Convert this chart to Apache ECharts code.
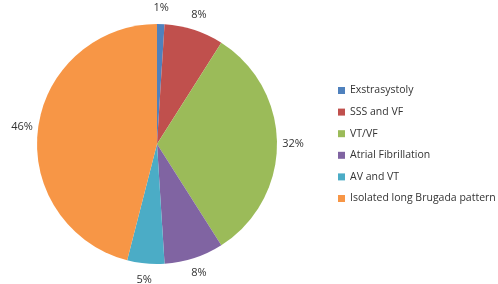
<!DOCTYPE html>
<html><head><meta charset="utf-8">
<script src="https://cdn.jsdelivr.net/npm/echarts@6/dist/echarts.min.js"></script>
<style>html,body{margin:0;padding:0;background:#fff}#c{width:498px;height:284px}</style>
</head><body><div id="c"></div>
<script>
const categories = ["Exstrasystoly","SSS and VF","VT/VF","Atrial Fibrillation","AV and VT","Isolated long Brugada pattern"];
const values = [1, 8, 32, 8, 5, 46];
const colors = ["#4F81BD","#C0504D","#9BBB59","#8064A2","#4BACC6","#F79646"];

const pieData = categories.map((n, i) => ({name: n, value: values[i]}));
const chart = echarts.init(document.getElementById('c'));
chart.setOption({
  animation: false,
  color: colors,
  legend: {
    orient: 'vertical', left: 333, top: 80,
    itemWidth: 7, itemHeight: 7, itemGap: 10.6,
    icon: 'rect',
    textStyle: {fontFamily: 'Open Sans', fontSize: 10.5, color: '#333'},
    data: categories
  },
  series: [{
    type: 'pie',
    center: [157, 144],
    radius: 120,
    startAngle: 90,
    clockwise: true,
    label: {show: false},
    labelLine: {show: false},
    itemStyle: {borderWidth: 0},
    emphasis: {disabled: true},
    silent: true,
    data: pieData
  }, {
    type: 'pie',
    center: [157, 144],
    radius: [120, 146],
    startAngle: 90,
    clockwise: true,
    silent: true,
    legendHoverLink: false,
    itemStyle: {color: 'rgba(0,0,0,0)', borderWidth: 0},
    label: {
      show: true, position: 'inside',
      formatter: '{c}%',
      fontFamily: 'Open Sans', fontSize: 11, color: '#333'
    },
    labelLine: {show: false},
    emphasis: {disabled: true},
    data: pieData
  }]
});
</script></body></html>
